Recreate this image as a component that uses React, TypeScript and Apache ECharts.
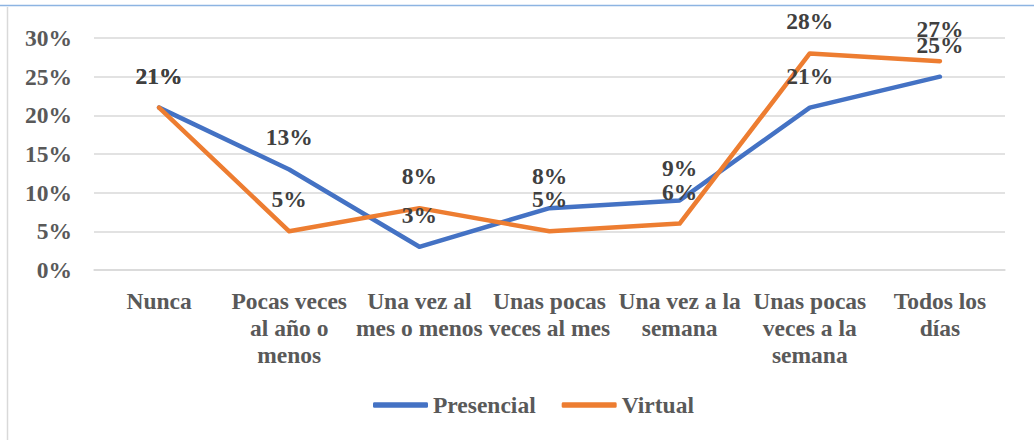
import React, { useEffect, useRef } from "react";
import * as echarts from "echarts";

const categories = [
  "Nunca",
  "Pocas veces\nal año o\nmenos",
  "Una vez al\nmes o menos",
  "Unas pocas\nveces al mes",
  "Una vez a la\nsemana",
  "Unas pocas\nveces a la\nsemana",
  "Todos los\ndías",
];
const presencial = [21, 13, 3, 8, 9, 21, 25];
const virtual = [21, 5, 8, 5, 6, 28, 27];
const yTicks = { min: 0, max: 30, interval: 5 };

const FONT = "Liberation Serif";
const FS = 23.5;

export default function App() {
  const ref = useRef<HTMLDivElement>(null);
  useEffect(() => {
    const chart = echarts.init(ref.current!, undefined, { renderer: "svg" });
    const label = {
      show: true,
      position: "top" as const,
      distance: 20,
      formatter: "{c}%",
      fontFamily: FONT,
      fontSize: FS,
      fontWeight: "bold" as const,
      color: "#404040",
    };
    chart.setOption({
      animation: false,
      backgroundColor: "#ffffff",
      textStyle: { fontFamily: FONT },
      graphic: [
        { type: "line", shape: { x1: 0, y1: 5.5, x2: 1034, y2: 5.5 }, style: { stroke: "#8db4e2", lineWidth: 1.5 } },
        { type: "line", shape: { x1: 7.5, y1: 7, x2: 7.5, y2: 440 }, style: { stroke: "#d9d9d9", lineWidth: 1.5 } },
      ],
      grid: { left: 94, right: 29, top: 38, bottom: 170, containLabel: false },
      legend: {
        data: ["Presencial", "Virtual"],
        bottom: 18,
        left: 368,
        icon: "roundRect",
        itemWidth: 55,
        itemHeight: 5.5,
        itemGap: 26,
        textStyle: { fontFamily: FONT, fontSize: FS, fontWeight: "bold", color: "#595959" },
      },
      xAxis: {
        type: "category",
        data: categories,
        axisLine: { show: true, lineStyle: { color: "#d9d9d9", width: 1.5 } },
        axisTick: { show: false },
        axisLabel: {
          interval: 0,
          margin: 17,
          fontFamily: FONT,
          fontSize: FS,
          lineHeight: 27,
          fontWeight: "bold",
          color: "#595959",
        },
      },
      yAxis: {
        type: "value",
        min: yTicks.min,
        max: yTicks.max,
        interval: yTicks.interval,
        axisLine: { show: false },
        axisTick: { show: false },
        splitLine: { lineStyle: { color: "#d9d9d9", width: 1.5 } },
        axisLabel: {
          formatter: "{value}%",
          margin: 22,
          fontFamily: FONT,
          fontSize: FS,
          fontWeight: "bold",
          color: "#595959",
        },
      },
      series: [
        {
          name: "Presencial",
          type: "line",
          data: presencial,
          symbol: "circle",
          symbolSize: 0.01,
          showSymbol: true,
          color: "#4472C4",
          lineStyle: { width: 4.5, color: "#4472C4", cap: "round", join: "round" },
          label,
        },
        {
          name: "Virtual",
          type: "line",
          data: virtual,
          symbol: "circle",
          symbolSize: 0.01,
          showSymbol: true,
          color: "#ED7D31",
          lineStyle: { width: 4.5, color: "#ED7D31", cap: "round", join: "round" },
          label,
        },
      ],
    });
    return () => chart.dispose();
  }, []);
  return (
    <div
      ref={ref}
      style={{ position: "absolute", left: 0, top: 0, width: 1034, height: 440 }}
    />
  );
}
